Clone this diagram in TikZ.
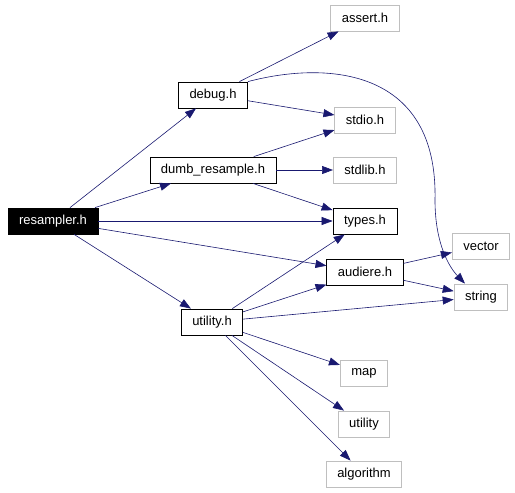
\documentclass[tikz,border=0pt]{standalone}
\usepackage{fontspec}
\setmainfont{Liberation Sans}
\usetikzlibrary{arrows.meta}
\definecolor{edgecolor}{RGB}{25,25,112}
\definecolor{extcolor}{RGB}{191,191,191}

\begin{document}
\begin{tikzpicture}[x=1pt, y=-1pt,
    header/.style={rectangle, draw=black, line width=0.8pt, minimum height=26pt, inner xsep=11pt, font=\fontsize{13}{15}\selectfont},
    root/.style={header, fill=black, text=white},
    extern/.style={header, draw=extcolor},
    dep/.style={-{Triangle[length=11pt, width=8pt]}, draw=edgecolor, line width=0.6pt}]

    \useasboundingbox (0,0) rectangle (515,493);

    % Project headers
    \node [root] (resampler) at (53,221) {resampler.h};
    \node [header] (debug) at (213,95) {debug.h};
    \node [header] (dumb) at (213,170) {dumb\_resample.h};
    \node [header] (utilityh) at (212,322) {utility.h};
    \node [header] (types) at (365,221) {types.h};
    \node [header] (audiere) at (365,272) {audiere.h};

    % System headers
    \node [extern] (assert) at (365,18) {assert.h};
    \node [extern] (stdio) at (365,120) {stdio.h};
    \node [extern] (stdlib) at (365,170) {stdlib.h};
    \node [extern] (vector) at (481,246) {vector};
    \node [extern] (string) at (481,297) {string};
    \node [extern] (map) at (364,373) {map};
    \node [extern] (utility) at (364,424) {utility};
    \node [extern] (algorithm) at (364,474) {algorithm};

    % Includes
    \draw [dep] (resampler) -- (debug);
    \draw [dep] (resampler) -- (dumb);
    \draw [dep] (resampler) -- (types);
    \draw [dep] (resampler) -- (audiere);
    \draw [dep] (resampler) -- (utilityh);

    \draw [dep] (debug) -- (assert);
    \draw [dep] (debug) -- (stdio);
    \coordinate (arcmid) at (435,200);
    \draw [dep] (debug.north east) .. controls (330,60) and (438,70) .. (arcmid)
        .. controls (435,245) and (450,268) .. ([xshift=-16pt]string.north);

    \draw [dep] (dumb) -- (stdio);
    \draw [dep] (dumb) -- (stdlib);
    \draw [dep] (dumb) -- (types);

    \draw [dep] (utilityh) -- (types);
    \draw [dep] (utilityh) -- (audiere);
    \draw [dep] (utilityh) -- (string);
    \draw [dep] (utilityh) -- (map);
    \draw [dep] (utilityh) -- (utility);
    \draw [dep] (utilityh) -- (algorithm);

    \draw [dep] (audiere) -- (vector);
    \draw [dep] (audiere) -- (string);

\end{tikzpicture}
\end{document}
